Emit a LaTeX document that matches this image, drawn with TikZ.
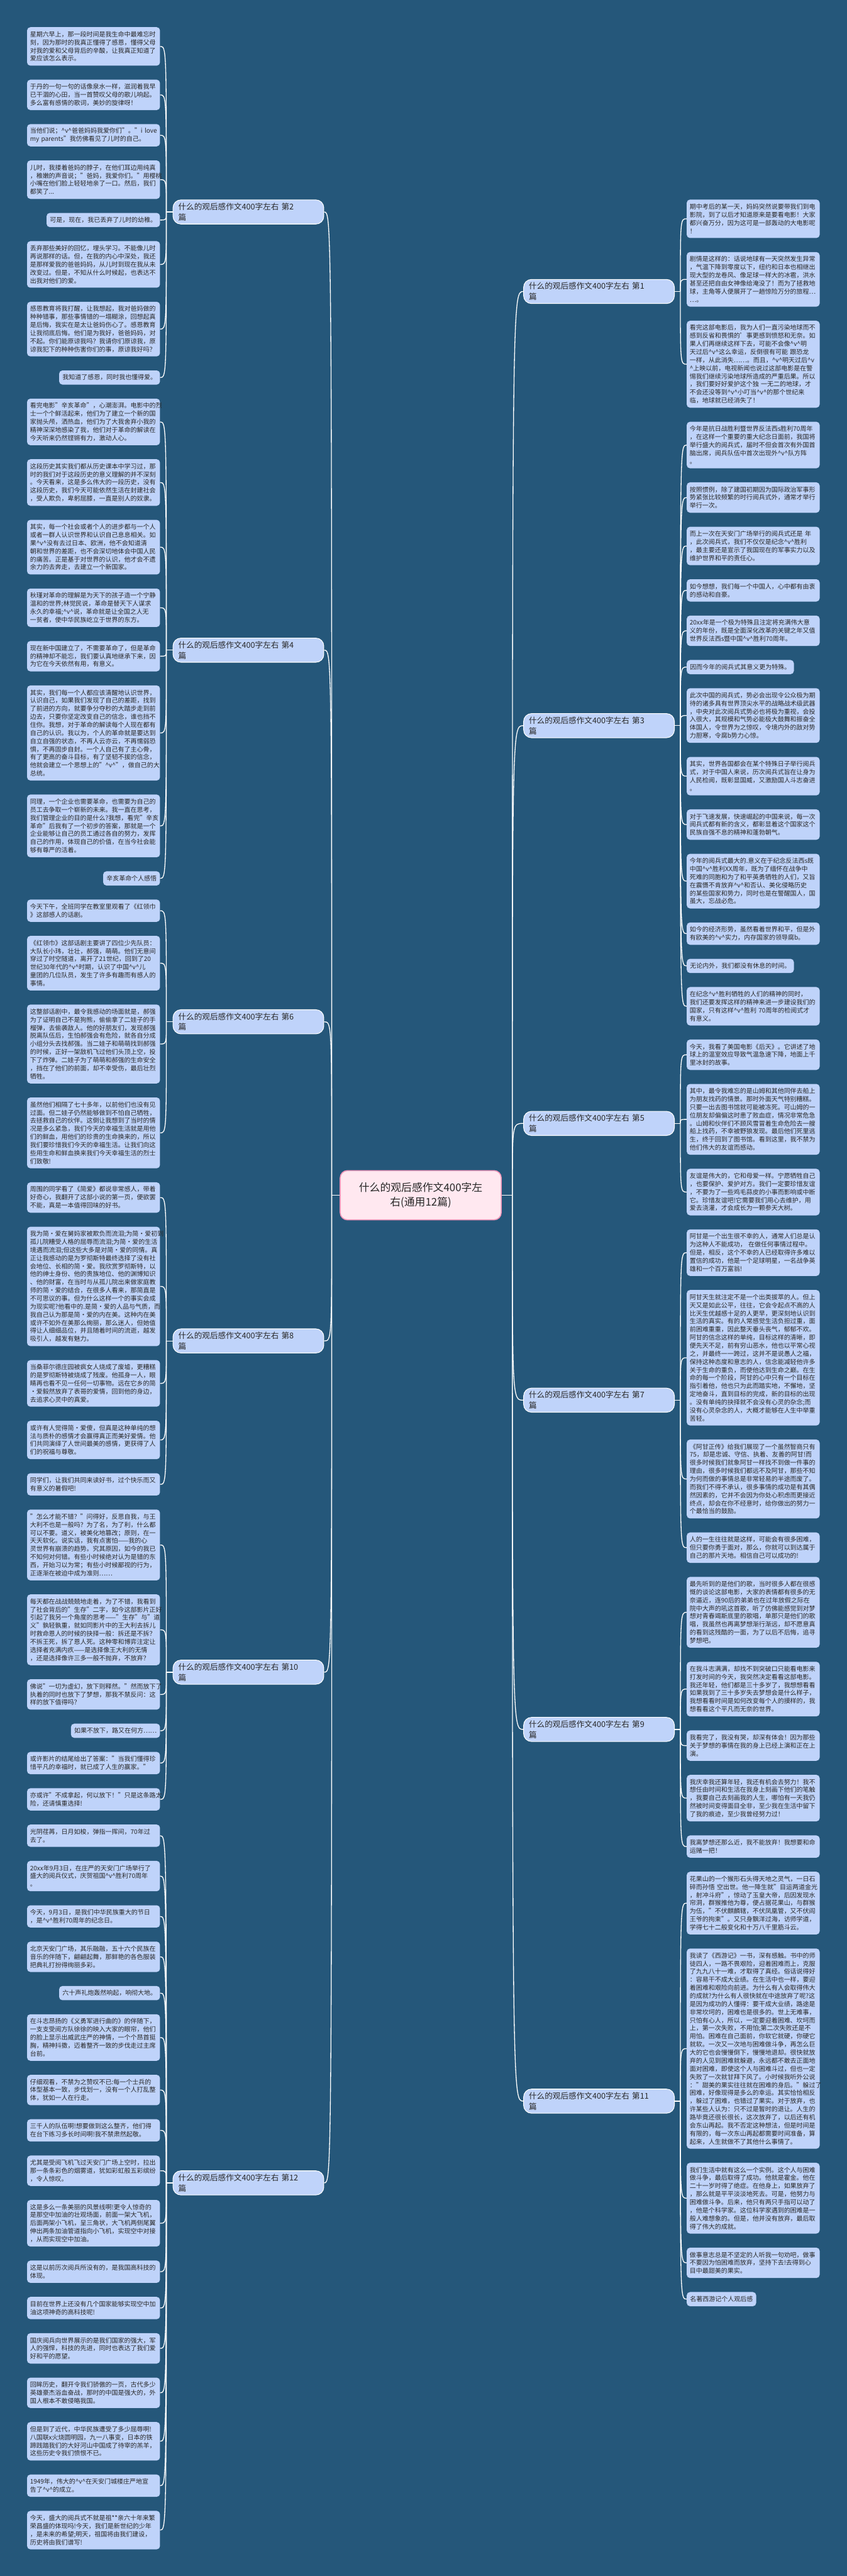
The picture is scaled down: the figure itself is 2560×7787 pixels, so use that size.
\documentclass[tikz,border=0pt]{standalone}
\usepackage{fontspec}
\setmainfont{Noto Sans CJK SC}
\usetikzlibrary{calc}
\hyphenpenalty=10000 \exhyphenpenalty=10000
\definecolor{bgc}{RGB}{37,87,122}
\definecolor{leafc}{RGB}{191,211,250}
\definecolor{txtc}{RGB}{40,40,40}
\definecolor{ctrfill}{RGB}{255,232,240}
\definecolor{ctrdraw}{RGB}{240,150,185}
\newcommand\vsym{\textasciicircum v\textasciicircum}
\newdimen\cyL \newdimen\cyR
\newcommand\leafL[4]{%
  \pgfmathsetmacro\lfh{18.5+24.45*#2}%
  \node[#3,anchor=north east,minimum height=\lfh pt] (#1) at (484pt,-\cyL) {#4};%
  \global\advance\cyL by \lfh pt\relax
  \global\advance\cyL by 42.4pt\relax}
\newcommand\leafR[4]{%
  \pgfmathsetmacro\lfh{18.5+24.45*#2}%
  \node[#3,anchor=north west,minimum height=\lfh pt] (#1) at (2076pt,-\cyR) {#4};%
  \global\advance\cyR by \lfh pt\relax
  \global\advance\cyR by 42.4pt\relax}
\tikzset{
  leaf/.style={fill=leafc,rounded corners=10pt,text=txtc,font=\fontsize{19}{24.45}\selectfont,inner xsep=9pt,inner ysep=2pt,text width=384pt,align=left},
  leafs/.style={fill=leafc,rounded corners=10pt,text=txtc,font=\fontsize{19}{24.45}\selectfont,inner xsep=10pt,inner ysep=2pt,align=left},
  brnode/.style={fill=leafc,draw=white,line width=2pt,rounded corners=24pt,text=txtc,font=\fontsize{24}{32}\selectfont,inner xsep=16pt,inner ysep=4pt,text width=424pt,align=left,minimum height=73pt},
  ctrnode/.style={fill=ctrfill,draw=ctrdraw,line width=3pt,rounded corners=22pt,text=txtc,font=\fontsize{32}{44}\selectfont,inner xsep=20pt,align=center,minimum width=487pt,minimum height=149pt},
  conn/.style={draw=white,line width=2.5pt}
}
\begin{document}
\begin{tikzpicture}
\fill[bgc] (0,0) rectangle (2560pt,-7787pt);
\global\cyL=82pt \global\cyR=603pt
% ---------------- left column ----------------
% 第2篇
\leafL{p1}{4}{leaf}{星期六早上，那一段时间是我生命中最难忘时\\刻，因为那时的我真正懂得了感恩，懂得父母\\对我的爱和父母背后的辛酸，让我真正知道了\\爱应该怎么表示。}
\leafL{p2}{3}{leaf}{于丹的一句一句的话像泉水一样，滋润着我早\\已干涸的心田，当一首赞叹父母的歌儿响起。\\多么富有感情的歌词，美妙的旋律呀！}
\leafL{p3}{2}{leaf}{当他们说；\vsym 爸爸妈妈我爱你们"。"i~love\\my~parents"我仿佛看见了儿时的自己。}
\leafL{p4}{4}{leaf}{儿时，我搂着爸妈的脖子，在他们耳边用纯真\\，稚嫩的声音说；"爸妈，我爱你们。"用樱桃\\小嘴在他们脸上轻轻地亲了一口。然后，我们\\都笑了...}
\leafL{p5}{1}{leafs}{可是，现在，我已丢弃了儿时的幼稚。}
\leafL{p6}{5}{leaf}{丢弃那些美好的回忆，埋头学习。不能像儿时\\再说那样的话。但，在我的内心中深处，我还\\是那样爱我的爸爸妈妈，从儿时到现在我从未\\改变过。但是，不知从什么时候起，也表达不\\出我对他们的爱。}
\leafL{p7}{6}{leaf}{感恩教育将我打醒，让我想起，我对爸妈做的\\种种错事，那些事情错的一塌糊涂，回想起真\\是后悔，我实在是太让爸妈伤心了。感恩教育\\让我彻底后悔。他们是为我好，爸爸妈妈，对\\不起。你们能原谅我吗？我请你们原谅我，原\\谅我犯下的种种伤害你们的事，原谅我好吗？}
\leafL{p8}{1}{leafs}{我知道了感恩，同时我也懂得爱。}
% 第4篇
\leafL{q1}{5}{leaf}{看完电影"辛亥革命"，心潮澎湃。电影中的烈\\士一个个鲜活起来，他们为了建立一个新的国\\家抛头颅，洒热血，他们为了大我舍弃小我的\\精神深深地感染了我，他们对于革命的解读在\\今天听来仍然铿锵有力，激动人心。}
\leafL{q2}{5}{leaf}{这段历史其实我们都从历史课本中学习过，那\\时的我们对于这段历史的意义理解的并不深刻\\。今天看来，这是多么伟大的一段历史，没有\\这段历史，我们今天可能依然生活在封建社会\\，受人欺负，卑躬屈膝，一直是别人的奴隶。}
\leafL{q3}{6}{leaf}{其实，每一个社会或者个人的进步都与一个人\\或者一群人认识世界和认识自己息息相关。如\\果\vsym 没有去过日本、欧洲，他不会知道清\\朝和世界的差距，也不会深切地体会中国人民\\的痛苦。正是基于对世界的认识，他才会不遗\\余力的去奔走，去建立一个新国家。}
\leafL{q4}{4}{leaf}{秋瑾对革命的理解是为天下的孩子造一个宁静\\温和的世界;林觉民说，革命是替天下人谋求\\永久的幸福;\vsym 说，革命就是让全国之人无\\一贫者，使中华民族屹立于世界的东方。}
\leafL{q5}{3}{leaf}{现在新中国建立了，不需要革命了，但是革命\\的精神却不能忘，我们要认真地继承下来，因\\为它在今天依然有用，有意义。}
\leafL{q6}{11}{leaf}{其实，我们每一个人都应该清醒地认识世界，\\认识自己，如果我们发现了自己的差距，找到\\了前进的方向，就要争分夺秒的大踏步走到前\\边去，只要你坚定改变自己的信念，谁也挡不\\住你。我想，对于革命的解读每个人现在都有\\自己的认识。我以为，个人的革命就是要达到\\自立自强的状态，不再人云亦云，不再懦弱恐\\惧，不再固步自封。一个人自己有了主心骨，\\有了更高的奋斗目标，有了坚韧不拔的信念，\\他就会建立一个思想上的"\vsym"，做自己的大\\总统。}
\leafL{q7}{7}{leaf}{同理，一个企业也需要革命，也需要为自己的\\员工去争取一个崭新的未来。我一直在思考，\\我们管理企业的目的是什么?我想，看完"辛亥\\革命"后我有了一个初步的答案，那就是一个\\企业能够让自己的员工通过各自的努力，发挥\\自己的作用，体现自己的价值，在当今社会能\\够有尊严的活着。}
\leafL{q8}{1}{leafs}{辛亥革命个人感悟}
% 第6篇
\leafL{r1}{2}{leaf}{今天下午，全班同学在教室里观看了《红领巾\\》这部感人的话剧。}
\leafL{r2}{6}{leaf}{《红领巾》这部话剧主要讲了四位少先队员：\\大队长小玮，壮壮，郝强，萌萌。他们无意间\\穿过了时空隧道，离开了21世纪，回到了20\\世纪30年代的\vsym 时期，认识了中国\vsym 儿\\童团的几位队员，发生了许多有趣而有感人的\\事情。}
\leafL{r3}{9}{leaf}{这整部话剧中，最令我感动的场面就是，郝强\\为了证明自己不是狗熊，偷偷拿了二娃子的手\\榴弹，去偷袭敌人。他的好朋友们，发现郝强\\脱离队伍后，生怕郝强会有危险，就各自分成\\小组分头去找郝强。当二娃子和萌萌找到郝强\\的时候，正好一架敌机飞过他们头顶上空，投\\下了炸弹。二娃子为了萌萌和郝强的生命安全\\，挡在了他们的前面，却不幸受伤，最后壮烈\\牺牲。}
\leafL{r4}{8}{leaf}{虽然他们相隔了七十多年，以前他们也没有见\\过面。但二娃子仍然能够做到不怕自己牺牲，\\去拯救自己的伙伴。这倒让我想到了当时的情\\况是多么紧急，我们今天的幸福生活就是用他\\们的鲜血，用他们的珍贵的生命换来的，所以\\我们要珍惜我们今天的幸福生活。让我们向这\\些用生命和鲜血换来我们今天幸福生活的烈士\\们致敬!}
% 第8篇
\leafL{s1}{3}{leaf}{周围的同学看了《简爱》都说非常感人，带着\\好奇心，我翻开了这部小说的第一页，便欲罢\\不能，真是一本值得回味的好书。}
\leafL{s2}{14}{leaf}{我为简·爱在舅妈家被欺负而流泪;为简·爱初到\\孤儿院糟受人格的屈辱而流泪;为简·爱的生活\\境遇而流泪;但这些大多是对简·爱的同情。真\\正让我感动的是为罗彻斯特最终选择了没有社\\会地位、长相的简·爱。我欣赏罗彻斯特，以\\他的绅士身份、他的贵族地位、他的渊博知识\\、他的财富，在当时与从孤儿院出来做家庭教\\师的简·爱的结合，在很多人看来，那简直是\\不可思议的事。但为什么这样一个的事实会成\\为现实呢?他看中的.是简·爱的人品与气质，而\\我自己认为那是简·爱的内在美。这种内在美\\或许不如外在美那么绚丽，那么迷人，但她值\\得让人细细品位，并且随着时间的流逝，越发\\吸引人，越发有魅力。}
\leafL{s3}{5}{leaf}{当桑菲尔德庄园被疯女人烧成了废墟，更糟糕\\的是罗彻斯特被烧成了残废。他孤身一人，眼\\睛再也看不见一任何一切事物。远在它乡的简\\·爱毅然放弃了表哥的爱情，回到他的身边，\\去追求心灵中的真爱。}
\leafL{s4}{4}{leaf}{或许有人觉得简·爱傻，但真是这种单纯的想\\法与质朴的感情才会赢得真正而美好爱情。他\\们共同演绎了人世间最美的感情，更获得了人\\们的祝福与尊敬。}
\leafL{s5}{2}{leaf}{同学们，让我们共同来读好书，过个快乐而又\\有意义的暑假吧!}
% 第10篇
\leafL{t1}{8}{leaf}{"怎么才能不错？"问得好，反思自我，与王\\大利不也是一般吗？为了名，为了利，什么都\\可以不要。道义，被美化地篡改；原则，在一\\天天软化。说实话，我有点害怕——我的心\\灵世界有崩溃的趋势。究其原因，如今的我已\\不知何对何错。有些小时候绝对认为是错的东\\西，开始习以为常；有些小时候鄙视的行为，\\正逐渐在被迫中成为准则……}
\leafL{t2}{8}{leaf}{每天都在战战兢兢地走着，为了不错，我看到\\了社会背后的"生存"二字，如今这部影片正好\\引起了我另一个角度的思考——"生存"与"道\\义"孰轻孰重，就如同影片中的王大利去拆儿\\时救命恩人的时候的抉择一般：拆还是不拆？\\不拆王死，拆了恩人死。这种零和博弈注定让\\选择者充满内疚——是选择像王大利的无情\\，还是选择像许三多一般不抛弃，不放弃？}
\leafL{t3}{3}{leaf}{佛说"一切为虚幻，放下则释然。"然而放下了\\执着的同时也放下了梦想，那我不禁反问：这\\样的放下值得吗？}
\leafL{t4}{1}{leafs}{如果不放下，路又在何方……}
\leafL{t5}{2}{leaf}{或许影片的结尾给出了答案："当我们懂得珍\\惜平凡的幸福时，就已成了人生的赢家。"}
\leafL{t6}{2}{leaf}{亦或许"不成拿起，何以放下！"只是这条路太\\险，还请慎重选择!}
% 第12篇
\leafL{u1}{2}{leaf}{光阴荏苒，日月如梭，弹指一挥间，70年过\\去了。}
\leafL{u2}{3}{leaf}{20xx年9月3日，在庄严的天安门广场举行了\\盛大的阅兵仪式，庆贺祖国\vsym 胜利70周年\\。}
\leafL{u3}{2}{leaf}{今天，9月3日，是我们中华民族重大的节日\\，是\vsym 胜利70周年的纪念日。}
\leafL{u4}{3}{leaf}{北京天安门广场，其乐融融，五十六个民族在\\音乐的伴随下，翩翩起舞，那鲜艳的各色服装\\把典礼打扮得绚丽多彩。}
\leafL{u5}{1}{leafs}{六十声礼炮轰然响起，响彻大地。}
\leafL{u6}{5}{leaf}{在斗志昂扬的《义勇军进行曲的》的伴随下，\\一支支受阅方队徐徐的映入大家的眼帘，他们\\的脸上显示出威武庄严的神情，一个个昂首挺\\胸，精神抖擞，迈着整齐一致的步伐走过主席\\台前。}
\leafL{u7}{3}{leaf}{仔细观看，不禁为之赞叹不已:每一个士兵的\\体型基本一致，步伐划一，没有一个人打乱整\\体，犹如一人在行走。}
\leafL{u8}{2}{leaf}{三千人的队伍啊!想要做到这么整齐，他们得\\在台下练习多长时间啊!我不禁肃然起敬。}
\leafL{u9}{3}{leaf}{尤其是受阅飞机飞过天安门广场上空时，拉出\\那一条条彩色的烟雾道，犹如彩虹般五彩缤纷\\，令人惊叹。}
\leafL{u10}{5}{leaf}{这是多么一条美丽的风景线啊!更令人惊奇的\\是那空中加油的壮观场面，前面一架大飞机，\\后面两架小飞机，呈三角状，大飞机两侧尾翼\\伸出两条加油管道指向小飞机，实现空中对接\\，从而实现空中加油。}
\leafL{u11}{2}{leaf}{这是以前历次阅兵所没有的，是我国高科技的\\体现。}
\leafL{u12}{2}{leaf}{目前在世界上还没有几个国家能够实现空中加\\油这项神奇的高科技呢!}
\leafL{u13}{3}{leaf}{国庆阅兵向世界展示的是我们国家的强大，军\\人的强悍，科技的先进，同时也表达了我们爱\\好和平的愿望。}
\leafL{u14}{3}{leaf}{回眸历史，翻开令我们骄傲的一页，古代多少\\英雄豪杰浴血奋战，那时的中国是强大的，外\\国人根本不敢侵略我国。}
\leafL{u15}{4}{leaf}{但是到了近代，中华民族遭受了多少屈辱啊!\\八国联x火烧圆明园，九一八事变，日本的铁\\蹄践踏我们的大好河山中国成了待宰的羔羊，\\这些历史令我们愤恨不已。}
\leafL{u16}{2}{leaf}{1949年，伟大的\vsym 在天安门城楼庄严地宣\\告了\vsym 的成立。}
\leafL{u17}{4}{leaf}{今天，盛大的阅兵式不就是祖**亲六十年来繁\\荣昌盛的体现吗!今天，我们是新世纪的少年\\，是未来的希望;明天，祖国将由我们建设，\\历史将由我们谱写!}
% ---------------- right column ----------------
% 第1篇
\leafR{g1}{4}{leaf}{期中考后的某一天，妈妈突然说要带我们到电\\影院，到了以后才知道原来是要看电影！大家\\都兴奋万分，因为这可是一部轰动的大电影呢\\！}
\leafR{g2}{6}{leaf}{剧情是这样的：话说地球有一天突然发生异常\\，气温下降到零度以下，纽约和日本也相继出\\现大型的龙卷风、像足球一样大的冰雹，洪水\\甚至还把自由女神像给淹没了！而为了拯救地\\球，主角等人便展开了一趟惊险万分的旅程…\\…。}
\leafR{g3}{10}{leaf}{看完这部电影后，我为人们一直污染地球而不\\感到反省和畏惧的'事更感到愤怒和无奈。如\\果人们再继续这样下去，可能不会像\vsym 明\\天过后\vsym 这么幸运，反倒很有可能~跟恐龙\\一样，从此消失……。而且，\vsym 明天过后\textasciicircum v\\\textasciicircum 上映以前，电视新闻也说过这部电影是在警\\惕我们继续污染地球所造成的严重后果。所以\\，我们要好好爱护这个独~一无二的地球，才\\不会还没等到\vsym 小叮当\vsym 的那个世纪来\\临，地球就已经消失了！}
% 第3篇
\leafR{h1}{5}{leaf}{今年是抗日战胜利暨世界反法西s胜利70周年\\，在这样一个重要的重大纪念日面前，我国将\\举行盛大的阅兵式，届时不但会首次有外国首\\脑出席，阅兵队伍中首次出现外\vsym 队方阵\\。}
\leafR{h2}{3}{leaf}{按照惯例，除了建国初期因为国际政治军事形\\势紧张比较频繁的时行阅兵式外，通常才举行\\举行一次。}
\leafR{h3}{4}{leaf}{而上一次在天安门广场举行的阅兵式还是~年\\，此次阅兵式，我们不仅仅是纪念\vsym 胜利\\，最主要还是宣示了我国现在的军事实力以及\\维护世界和平的责任心。}
\leafR{h4}{2}{leaf}{如今想想，我们每一个中国人，心中都有由衷\\的感动和自豪。}
\leafR{h5}{3}{leaf}{20xx年是一个极为特殊且注定将充满伟大意\\义的年份，既是全面深化改革的关键之年又值\\世界反法西s暨中国\vsym 胜利70周年。}
\leafR{h6}{1}{leafs}{因而今年的阅兵式其意义更为特殊。}
\leafR{h7}{6}{leaf}{此次中国的阅兵式，势必会出现令公众极为期\\待的诸多具有世界顶尖水平的战略战术级武器\\，中央对此次阅兵式势必也将极为重视，会投\\入很大，其规模和气势必能极大鼓舞和振奋全\\体国人，令世界为之惊叹，令境内外的敌对势\\力胆寒，令腐b势力心惊。}
\leafR{h8}{4}{leaf}{其实，世界各国都会在某个特殊日子举行阅兵\\式，对于中国人来说，历次阅兵式旨在让身为\\人民检阅，既彰显国威，又激励国人斗志奋进\\。}
\leafR{h9}{3}{leaf}{对于飞速发展，快速崛起的中国来说，每一次\\阅兵式都有新的含义，都彰显着这个国家这个\\民族自强不息的精神和蓬勃朝气。}
\leafR{h10}{6}{leaf}{今年的阅兵式最大的.意义在于纪念反法西s既\\中国\vsym 胜利XX周年，既为了缅怀在战争中\\死难的同胞和为了和平英勇牺牲的人们，又旨\\在震慑不肯放弃\vsym 和否认、美化侵略历史\\的某些国家和势力，同时也是在警醒国人，国\\虽大，忘战必危。}
\leafR{h11}{2}{leaf}{如今的经济形势，虽然看着世界和平，但是外\\有欧美的\vsym 实力，内存国家的领导腐b。}
\leafR{h12}{1}{leafs}{无论内外，我们都没有休息的时间。}
\leafR{h13}{4}{leaf}{在纪念\vsym 胜利牺牲的人们的精神的同时，\\我们还要发挥这样的精神来进一步建设我们的\\国家，只有这样\vsym 胜利~70周年的检阅式才\\有意义。}
% 第5篇
\leafR{i1}{3}{leaf}{今天，我看了美国电影《后天》。它讲述了地\\球上的温室效应导致气温急速下降，地面上千\\里冰封的故事。}
\leafR{i2}{8}{leaf}{其中，最令我难忘的是山姆和其他同伴去船上\\为朋友找药的情景。那时外面天气特别糟糕。\\只要一出去图书馆就可能被冻死。可山姆的一\\位朋友却偏偏这时患了败血症，情况非常危急\\。山姆和伙伴们不顾风雪冒着生命危险去一艘\\船上找药，不幸被野狼发现。最后他们死里逃\\生，终于回到了图书馆。看到这里，我不禁为\\他们伟大的友谊而感动。}
\leafR{i3}{5}{leaf}{友谊是伟大的，它和母爱一样。宁愿牺牲自己\\，也要保护、爱护对方。我们一定要珍惜友谊\\，不要为了一些鸡毛蒜皮的小事而影响或中断\\它。珍惜友谊吧!它需要我们用心去维护，用\\爱去浇灌，才会成长为一颗参天大树。}
% 第7篇
\leafR{j1}{5}{leaf}{阿甘是一个出生很不幸的人，通常人们总是认\\为这种人不能成功，~在做任何事情过程中。\\但是，相反，这个不幸的人已经取得许多难以\\置信的成功，他是一个足球明星，一名战争英\\雄和一个百万富翁!}
\leafR{j2}{16}{leaf}{阿甘天生就注定不是一个出类拔萃的人。但上\\天又是如此公平，往往，它会令起点不高的人\\比天生优越感十足的人更早，更深刻地认识到\\生活的真实。有的人常感觉生活负担过重，面\\前困难重重，因此整天垂头丧气，郁郁不欢。\\阿甘的信念这样的单纯，目标这样的清晰，即\\便先天不足，前有穷山恶水，他也以平常心视\\之，并最终一一跨过，这并不是说愚人之福，\\保持这种态度和意志的人，信念能减轻他许多\\关于生命的重负，而使他达到生命之巅。在生\\命的每一个阶段，阿甘的心中只有一个目标在\\指引着他，他也只为此而踏实地，不懈地，坚\\定地奋斗，直到目标的完成，新的目标的出现\\。没有单纯的抉择就不会没有心灵的杂念;而\\没有心灵杂念的人，大概才能够在人生中举重\\苦轻。}
\leafR{j3}{9}{leaf}{《阿甘正传》给我们展现了一个虽然智商只有\\75，却是忠诚、守信、执着、友善的阿甘!而\\很多时候我们就象阿甘一样找不到做一件事的\\理由，很多时候我们都远不及阿甘，那些不知\\为何而做的事情总是非常轻易的半途而废了。\\而我们不得不承认，很多事情的成功是有其偶\\然因素的，它并不会因为你处心积虑而更接近\\终点，却会在你不经意时，给你做出的努力一\\个最恰当的鼓励。}
\leafR{j4}{3}{leaf}{人的一生往往就是这样，可能会有很多困难，\\但只要你勇于面对，那么，你就可以到达属于\\自己的那片天地。相信自己可以成功的!}
% 第9篇
\leafR{k1}{8}{leaf}{最先听到的是他们的歌，当时很多人都在很感\\慨的谈论这部电影，大家的表情都有很多的无\\奈逼近，连90后的弟弟也在过年放假之际在\\院中大声的吼这首歌，听了仿佛能感觉到对梦\\想对青春竭斯底里的歌唱，单那只是他们的歌\\唱，我虽然也再离梦想渐行渐远，却不愿意真\\的看到这残酷的一面，为了以后不后悔，追寻\\梦想吧。}
\leafR{k2}{6}{leaf}{在我斗志满满，却找不到突破口只能看电影来\\打发时间的今天，我突然决定看看这部电影。\\我还年轻，他们都是三十多岁了，我想想看看\\如果我到了三十多岁失去梦想会是什么样子，\\我想看看时间是如何改变每个人的摸样的，我\\想看看这个平凡而无奈的世界。}
\leafR{k3}{3}{leaf}{我看完了，我没有哭，却深有体会！因为那些\\关于梦想的事情在我的身上已经上演和正在上\\演。}
\leafR{k4}{5}{leaf}{我庆幸我还算年轻，我还有机会去努力！我不\\想任由时间和生活在我身上刻画下他们的笔触\\，我要自己去刻画我的人生，哪怕有一天我仍\\然被时间变得面目全非，至少我在生活中留下\\了我的痕迹，至少我曾经努力过！}
\leafR{k5}{2}{leaf}{我离梦想还那么近，我不能放弃！我想要和命\\运赌一把！}
% 第11篇
\leafR{m1}{7}{leaf}{花果山的一个猴形石头得天地之灵气，一日石\\碎而孙悟~空出世。他一降生就"目运两道金光\\，射冲斗府"，惊动了玉皇大帝，后因发现水\\帘洞，群猴推他为尊，便占据花果山，与群猴\\为伍，"不伏麒麟辖，不伏凤凰管，又不伏阎\\王爷的拘束"。又只身飘洋过海，访师学道，\\学得七十二般变化和十万八千里筋斗云。}
\leafR{m2}{24}{leaf}{我读了《西游记》一书，深有感触。书中的师\\徒四人，一路不畏艰险，迎着困难而上，克服\\了九九八十一难，才取得了真经。俗话说得好\\：容易干不成大业绩。在生活中也一样，要迎\\着困难和艰险向前进。为什么有人会取得伟大\\的成就?为什么有人很快就在中途放弃了呢?这\\是因为成功的人懂得：要干成大业绩，路途是\\非常坎坷的，困难也是很多的。世上无难事，\\只怕有心人，所以，一定要迎着困难、坎坷而\\上，第一次失败，不用怕;第二次失败还是不\\用怕。困难在自己面前，你软它就硬，你硬它\\就软。一次又一次地与困难做斗争，再怎么巨\\大的它也会慢慢倒下，慢慢地退却。很快就放\\弃的人见到困难就躲避，永远都不敢去正面地\\面对困难，即使这个人与困难斗过，但也一定\\失败了一次就甘拜下风了。小时候我听外公说\\："甜美的果实往往就在困难的身后。"躲过了\\困难，好像现得是多么的幸运。其实恰恰相反\\，躲过了困难，也错过了果实。对于放弃，也\\许某些人认为：只不过是暂时的退让。人生的\\路毕竟还很长很长，这次放弃了，以后还有机\\会东山再起。我不否定这种想法，但是时间是\\有限的，每一次东山再起都需要时间准备，算\\起来，人生就做不了其他什么事情了。}
\leafR{m3}{8}{leaf}{我们生活中就有这么一个实例。这个人与困难\\做斗争，最后取得了成功。他就是霍金。他在\\二十一岁时得了绝症。在他身上，如果放弃了\\，那么就是平平淡淡地死去。可是，他努力与\\困难做斗争。后来，他只有两只手指可以动了\\，他是个科学家。这位科学家遇到的困难是一\\般人难想象的。但是，他并没有放弃，最后取\\得了伟大的成就。}
\leafR{m4}{3}{leaf}{做事意志总是不坚定的人听我一句劝吧，做事\\不要因为怕困难而放弃，坚持下去!去得到心\\目中最甜美的果实。}
\leafR{m5}{1}{leafs}{名著西游记个人观后感}
% ---------------- branch nodes ----------------
\coordinate (xL) at (522pt,0);
\coordinate (xR) at (2040pt,0);
\coordinate (mid2) at ($(p1.east)!0.5!(p8.east)$);
\coordinate (mid4) at ($(q1.east)!0.5!(q8.east)$);
\coordinate (mid6) at ($(r1.east)!0.5!(r4.east)$);
\coordinate (mid8) at ($(s1.east)!0.5!(s5.east)$);
\coordinate (mid10) at ($(t1.east)!0.5!(t6.east)$);
\coordinate (mid12) at ($(u1.east)!0.5!(u17.east)$);
\coordinate (mid1) at ($(g1.west)!0.5!(g3.west)$);
\coordinate (mid3) at ($(h1.west)!0.5!(h13.west)$);
\coordinate (mid5) at ($(i1.west)!0.5!(i3.west)$);
\coordinate (mid7) at ($(j1.west)!0.5!(j4.west)$);
\coordinate (mid9) at ($(k1.west)!0.5!(k5.west)$);
\coordinate (mid11) at ($(m1.west)!0.5!(m5.west)$);
\foreach \k in {2,4,6,8,10,12}
  \node[brnode,anchor=west] (br\k) at (xL |- mid\k) {什么的观后感作文400字左右~第\k\\篇};
\foreach \k in {1,3,5,7,9,11}
  \node[brnode,anchor=east] (br\k) at (xR |- mid\k) {什么的观后感作文400字左右~第\k\\篇};
% ---------------- center ----------------
\node[ctrnode] (ctr) at (1272pt,-3613pt) {什么的观后感作文400字左\\右(通用12篇)};
% ---------------- connectors ----------------
\coordinate (cjL) at ($(ctr.west)+(-24pt,0)$);
\coordinate (cjR) at ($(ctr.east)+(32pt,0)$);
\draw[conn] (ctr.west) -- (cjL);
\draw[conn] (ctr.east) -- (cjR);
\foreach \k in {2,4,6,8,10,12}
  \draw[conn] (cjL) .. controls (cjL |- br\k.east) .. (br\k.east);
\foreach \k in {1,3,5,7,9,11}
  \draw[conn] (cjR) .. controls (cjR |- br\k.west) .. (br\k.west);
\newcommand\fanL[3]{% branch, prefix, count
  \draw[conn] (#1.west) -- ++(-19pt,0) coordinate (j#1);
  \foreach \i in {1,...,#3}
    \draw[conn] (j#1) .. controls (j#1 |- #2\i.east) .. (#2\i.east);}
\newcommand\fanR[3]{%
  \draw[conn] (#1.east) -- ++(17pt,0) coordinate (j#1);
  \foreach \i in {1,...,#3}
    \draw[conn] (j#1) .. controls (j#1 |- #2\i.west) .. (#2\i.west);}
\fanL{br2}{p}{8}
\fanL{br4}{q}{8}
\fanL{br6}{r}{4}
\fanL{br8}{s}{5}
\fanL{br10}{t}{6}
\fanL{br12}{u}{17}
\fanR{br1}{g}{3}
\fanR{br3}{h}{13}
\fanR{br5}{i}{3}
\fanR{br7}{j}{4}
\fanR{br9}{k}{5}
\fanR{br11}{m}{5}
\end{tikzpicture}
\end{document}
